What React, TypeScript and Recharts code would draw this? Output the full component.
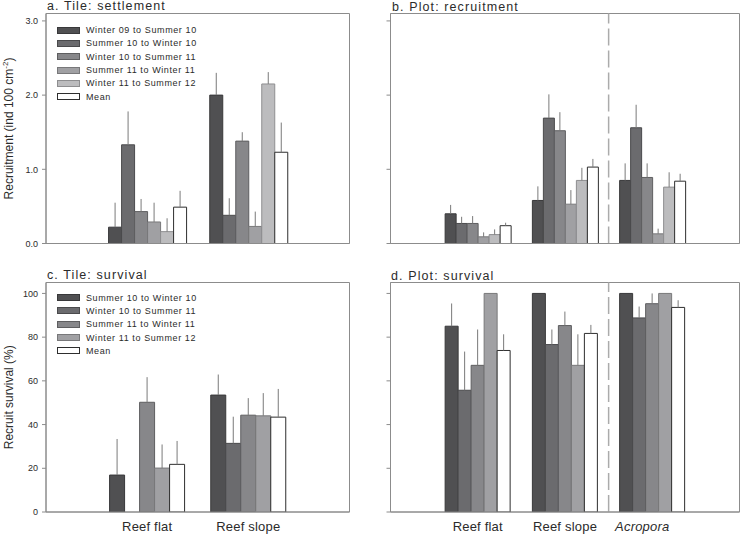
import React from "react";
import { BarChart, Bar, XAxis, YAxis, ErrorBar, ReferenceLine, ReferenceArea, Legend } from "recharts";

const FONT = '"Liberation Sans", Arial, Helvetica, sans-serif';
const FRAME = "#8c8c8c";
const INK = "#2b2b2b";
const ERR = "#7a7a7a";

const tileSites = ["Reef flat", "Reef slope"];
const plotSites = ["Reef flat", "Reef slope", "Acropora"];

const recruitPeriods = [
  "Winter 09 to Summer 10",
  "Summer 10 to Winter 10",
  "Winter 10 to Summer 11",
  "Summer 11 to Winter 11",
  "Winter 11 to Summer 12",
  "Mean",
];
const survivalPeriods = [
  "Summer 10 to Winter 10",
  "Winter 10 to Summer 11",
  "Summer 11 to Winter 11",
  "Winter 11 to Summer 12",
  "Mean",
];

const recruitFills = ["#505052", "#6b6b6e", "#87878a", "#a0a0a3", "#bcbcbe", "#ffffff"];
const recruitStrokes = ["#38383a", "#4a4a4c", "#5e5e60", "#78787a", "#8e8e90", "#2e2e2e"];
const survivalFills = ["#505052", "#6b6b6e", "#87878a", "#a0a0a3", "#ffffff"];
const survivalStrokes = ["#38383a", "#4a4a4c", "#5e5e60", "#78787a", "#2e2e2e"];

const recruitTicks = [0, 1, 2, 3];
const survivalTicks = [0, 20, 40, 60, 80, 100];

// one row per site, one column per period
const tileSettlement = [
  [0.22, 1.33, 0.43, 0.29, 0.16, 0.49],
  [2.0, 0.38, 1.38, 0.23, 2.15, 1.23],
];
const tileSettlementErr = [
  [0.33, 0.45, 0.17, 0.26, 0.18, 0.22],
  [0.3, 0.23, 0.12, 0.2, 0.16, 0.4],
];
const plotRecruitment = [
  [0.4, 0.27, 0.27, 0.09, 0.12, 0.24],
  [0.58, 1.69, 1.52, 0.53, 0.85, 1.03],
  [0.85, 1.56, 0.89, 0.13, 0.76, 0.84],
];
const plotRecruitmentErr = [
  [0.12, 0.09, 0.1, 0.06, 0.07, 0.04],
  [0.19, 0.32, 0.25, 0.19, 0.17, 0.11],
  [0.23, 0.31, 0.19, 0.07, 0.2, 0.1],
];
const tileSurvival = [
  [16.9, 0, 50.2, 20.1, 21.8],
  [53.5, 31.4, 44.3, 44.0, 43.4],
];
const tileSurvivalErr = [
  [16.5, 0, 11.5, 10.8, 10.7],
  [9.4, 12.2, 7.8, 10.4, 12.9],
];
const plotSurvival = [
  [85, 55.7, 67.1, 100, 73.9],
  [100, 76.6, 85.3, 67.1, 81.7],
  [100, 88.8, 95.3, 100, 93.6],
];
const plotSurvivalErr = [
  [10.4, 17.7, 16.4, 0, 7.4],
  [0, 6.9, 6.4, 14.2, 3.9],
  [0, 5.2, 4.7, 0, 3.3],
];

const YTitle = (props: any) => {
  const { viewBox, kind } = props;
  if (!viewBox) return null;
  const cx = viewBox.x + 7;
  const cy = viewBox.y + viewBox.height / 2;
  return (
    <text
      x={cx}
      y={cy}
      transform={`rotate(-90 ${cx} ${cy})`}
      textAnchor="middle"
      fontSize={12}
      fill={INK}
      fontFamily={FONT}
    >
      {kind === "recruit" ? (
        <>
          <tspan>Recruitment (ind 100 cm</tspan>
          <tspan dy={-5} fontSize={8}>-2</tspan>
          <tspan dy={5}>)</tspan>
        </>
      ) : (
        <tspan>Recruit survival (%)</tspan>
      )}
    </text>
  );
};

const SiteTick = (props: any) => {
  const { x, y, payload, sites } = props;
  const name = sites[payload.value - 1];
  const italic = name === "Acropora";
  return (
    <text
      x={x + (italic ? -10 : 0)}
      y={y}
      dy={11}
      textAnchor="middle"
      fontSize={13}
      fill={INK}
      fontFamily={FONT}
      fontStyle={italic ? "italic" : "normal"}
      letterSpacing={0.2}
    >
      {name}
    </text>
  );
};

// keeps the tick marks but draws no label
const NoLabel = () => null;

const LegendBox = ({ names, fills, strokes }: { names: string[]; fills: string[]; strokes: string[] }) => (
  <div style={{ fontFamily: FONT, fontSize: 9, color: INK, letterSpacing: 0.6 }}>
    {names.map((n, i) => (
      <div key={n} style={{ display: "flex", alignItems: "center", height: 13.3 }}>
        <span
          style={{
            display: "inline-block",
            width: 23,
            height: 7,
            background: fills[i],
            border: `1px solid ${strokes[i]}`,
            boxSizing: "border-box",
            marginRight: 6,
          }}
        />
        <span>{n}</span>
      </div>
    ))}
  </div>
);

type PanelProps = {
  left: number;
  top: number;
  width: number;
  height: number;
  marginTop: number;
  marginLeft: number;
  marginRight: number;
  yAxisWidth: number;
  xAxisHeight: number;
  sites: string[];
  periods: string[];
  values: number[][];
  errors: number[][];
  fills: string[];
  strokes: string[];
  yMax: number;
  yTicks: number[];
  digits: number | null;
  barSize: number;
  siteLabels: boolean;
  divider: boolean;
  yKind?: string;
  legendTop?: number;
};

function Panel(p: PanelProps) {
  // sites sit at x = 1..n on a numeric axis running 0..n+1
  const rows = p.sites.map((site, i) => {
    const row: Record<string, any> = { x: i + 1, site };
    p.periods.forEach((_, j) => {
      row[`v${j}`] = p.values[i][j];
      row[`e${j}`] = [0, p.errors[i][j]];
    });
    return row;
  });
  const xMax = p.sites.length + 1;
  const xTicks = p.sites.map((_, i) => i + 1);

  return (
    <div style={{ position: "absolute", left: p.left, top: p.top }}>
      <BarChart
        width={p.width}
        height={p.height}
        data={rows}
        margin={{ top: p.marginTop, right: p.marginRight, left: p.marginLeft, bottom: 0 }}
        barGap={0}
        barSize={p.barSize}
      >
        <ReferenceArea x1={0} x2={xMax} y1={0} y2={p.yMax} fill="none" stroke={FRAME} strokeWidth={1} />
        <XAxis
          dataKey="x"
          type="number"
          domain={[0, xMax]}
          ticks={xTicks}
          height={p.xAxisHeight}
          axisLine={{ stroke: FRAME }}
          tickLine={false}
          tick={p.siteLabels ? <SiteTick sites={p.sites} /> : false}
          interval={0}
        />
        <YAxis
          width={p.yAxisWidth}
          domain={[0, p.yMax]}
          ticks={p.yTicks}
          allowDataOverflow
          stroke={FRAME}
          tickLine={{ stroke: FRAME, strokeWidth: 1 }}
          tickSize={4}
          tickMargin={4}
          tick={p.digits == null ? NoLabel : { fontSize: 9, fill: INK, fontFamily: FONT }}
          tickFormatter={(v: number) => (p.digits == null ? "" : v.toFixed(p.digits))}
          label={p.yKind ? <YTitle kind={p.yKind} /> : undefined}
        />
        {p.divider && (
          <ReferenceLine x={2.5} stroke="#ababab" strokeWidth={1.5} strokeDasharray="17 5" />
        )}
        {p.periods.map((name, j) => (
          <Bar
            key={name}
            dataKey={`v${j}`}
            name={name}
            fill={p.fills[j]}
            stroke={p.strokes[j]}
            strokeWidth={1}
            isAnimationActive={false}
          >
            <ErrorBar dataKey={`e${j}`} width={0} stroke={ERR} strokeWidth={1} direction="y" />
          </Bar>
        ))}
        {p.legendTop != null && (
          <Legend
            layout="vertical"
            align="center"
            verticalAlign="middle"
            wrapperStyle={{ left: 57, top: p.legendTop, width: "auto" }}
            content={() => <LegendBox names={p.periods} fills={p.fills} strokes={p.strokes} />}
          />
        )}
      </BarChart>
    </div>
  );
}

const titleStyle = { fontSize: 12.5, fill: INK, fontFamily: FONT, letterSpacing: 1.1 } as const;

export default function App() {
  return (
    <div style={{ position: "absolute", left: 0, top: 0, width: 740, height: 535, background: "#fff" }}>
      <Panel
        left={0}
        top={0}
        width={370}
        height={265}
        marginTop={13.5}
        marginLeft={6}
        marginRight={20.5}
        yAxisWidth={40}
        xAxisHeight={21.5}
        sites={tileSites}
        periods={recruitPeriods}
        values={tileSettlement}
        errors={tileSettlementErr}
        fills={recruitFills}
        strokes={recruitStrokes}
        yMax={3.1}
        yTicks={recruitTicks}
        digits={1}
        barSize={13}
        siteLabels={false}
        divider={false}
        yKind="recruit"
        legendTop={23.5}
      />
      <Panel
        left={370}
        top={0}
        width={370}
        height={265}
        marginTop={13.5}
        marginLeft={0}
        marginRight={0.5}
        yAxisWidth={20.5}
        xAxisHeight={21.5}
        sites={plotSites}
        periods={recruitPeriods}
        values={plotRecruitment}
        errors={plotRecruitmentErr}
        fills={recruitFills}
        strokes={recruitStrokes}
        yMax={3.1}
        yTicks={recruitTicks}
        digits={null}
        barSize={11}
        siteLabels={false}
        divider={true}
      />
      <Panel
        left={0}
        top={265}
        width={370}
        height={270}
        marginTop={17.5}
        marginLeft={6}
        marginRight={20.5}
        yAxisWidth={40}
        xAxisHeight={23}
        sites={tileSites}
        periods={survivalPeriods}
        values={tileSurvival}
        errors={tileSurvivalErr}
        fills={survivalFills}
        strokes={survivalStrokes}
        yMax={105}
        yTicks={survivalTicks}
        digits={0}
        barSize={15}
        siteLabels={true}
        divider={false}
        yKind="survival"
        legendTop={26}
      />
      <Panel
        left={370}
        top={265}
        width={370}
        height={270}
        marginTop={17.5}
        marginLeft={0}
        marginRight={0.5}
        yAxisWidth={20.5}
        xAxisHeight={23}
        sites={plotSites}
        periods={survivalPeriods}
        values={plotSurvival}
        errors={plotSurvivalErr}
        fills={survivalFills}
        strokes={survivalStrokes}
        yMax={105}
        yTicks={survivalTicks}
        digits={null}
        barSize={13}
        siteLabels={true}
        divider={true}
      />
      <svg
        width={740}
        height={535}
        style={{ position: "absolute", left: 0, top: 0, pointerEvents: "none" }}
      >
        <text x={47} y={10} {...titleStyle}>a. Tile: settlement</text>
        <text x={392} y={10.5} {...titleStyle}>b. Plot: recruitment</text>
        <text x={47} y={279} {...titleStyle}>c. Tile: survival</text>
        <text x={391} y={280} {...titleStyle}>d. Plot: survival</text>
      </svg>
    </div>
  );
}
